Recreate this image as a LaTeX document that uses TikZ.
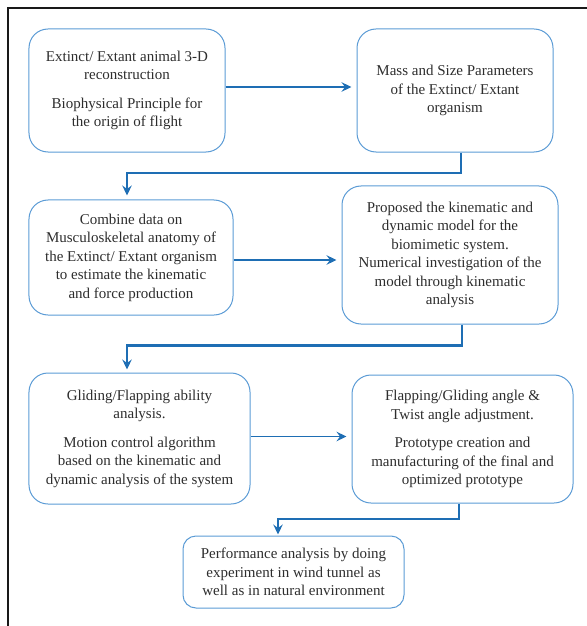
\documentclass[tikz,border=0pt]{standalone}
\usepackage{fontspec}
\setmainfont{Liberation Serif}
\usetikzlibrary{arrows.meta}
\definecolor{boxblue}{RGB}{91,155,213}
\definecolor{linkblue}{RGB}{30,110,180}
\definecolor{txt}{RGB}{45,45,45}
\begin{document}
\begin{tikzpicture}[x=1bp,y=-1bp,
  box/.style={draw=boxblue, line width=1bp, rounded corners=19bp, align=center,
    font=\fontsize{15bp}{18.5bp}\selectfont, text=txt, inner sep=0pt},
  link/.style={draw=linkblue, line width=1.5bp, shorten >=5bp,
    -{Stealth[length=10bp,width=9.5bp,inset=3.5bp]}},
  elbow/.style={link, line width=2.2bp}]
\useasboundingbox (0,0) rectangle (587,626);
\draw[line width=2.8bp, black!90] (8,626) -- (8,8) -- (587,8);

\node[box, minimum width=196bp, minimum height=123bp] (b1) at (127,90.5)
  {Extinct/ Extant animal 3-D\\reconstruction\\[10bp]Biophysical Principle for\\the origin of flight};
\node[box, minimum width=196bp, minimum height=123bp] (b2) at (455,90.5)
  {Mass and Size Parameters\\of the Extinct/ Extant\\organism};
\node[box, minimum width=204bp, minimum height=115bp] (b3) at (131,257.5)
  {Combine data on\\Musculoskeletal anatomy of\\the Extinct/ Extant organism\\to estimate the kinematic\\and force production};
\node[box, minimum width=216bp, minimum height=138bp] (b4) at (450,255)
  {Proposed the kinematic and\\dynamic model for the\\biomimetic system.\\Numerical investigation of the\\model through kinematic\\analysis};
\node[box, minimum width=221bp, minimum height=131bp] (b5) at (139.5,438.5)
  {Gliding/Flapping ability\\analysis.\\[10bp]Motion control algorithm\\based on the kinematic and\\dynamic analysis of the system};
\node[box, minimum width=221bp, minimum height=128bp] (b6) at (462.5,439)
  {Flapping/Gliding angle \&\\Twist angle adjustment.\\[10bp]Prototype creation and\\manufacturing of the final and\\optimized prototype};
\node[box, minimum width=221bp, minimum height=72bp, rounded corners=13bp] (b7) at (293.5,572)
  {Performance analysis by doing\\experiment in wind tunnel as\\well as in natural environment};

% horizontal arrows
\coordinate (a1) at ([yshift=3.5bp]b1.east);
\draw[link] (a1) -- (a1 -| b2.west);
\coordinate (a3) at ([yshift=-2.5bp]b3.east);
\draw[link] (a3) -- (a3 -| b4.west);
\coordinate (a5) at ([yshift=2bp]b5.east);
\draw[link] (a5) -- (a5 -| b6.west);

% elbow connectors
\coordinate (k1) at (461,173);
\coordinate (k2) at (127,173);
\draw[elbow, shorten >=4bp] (b2.south -| k1) -- (k1) -- (k2) -- (b3.north -| k2);
\coordinate (k3) at (462,345.5);
\coordinate (k4) at (127,345.5);
\draw[elbow, shorten >=3bp] (b4.south -| k3) -- (k3) -- (k4) -- (b5.north -| k4);
\coordinate (k5) at (459,519);
\coordinate (k6) at (278,519);
\draw[elbow, shorten >=1bp] (b6.south -| k5) -- (k5) -- (k6) -- (b7.north -| k6);
\end{tikzpicture}
\end{document}
